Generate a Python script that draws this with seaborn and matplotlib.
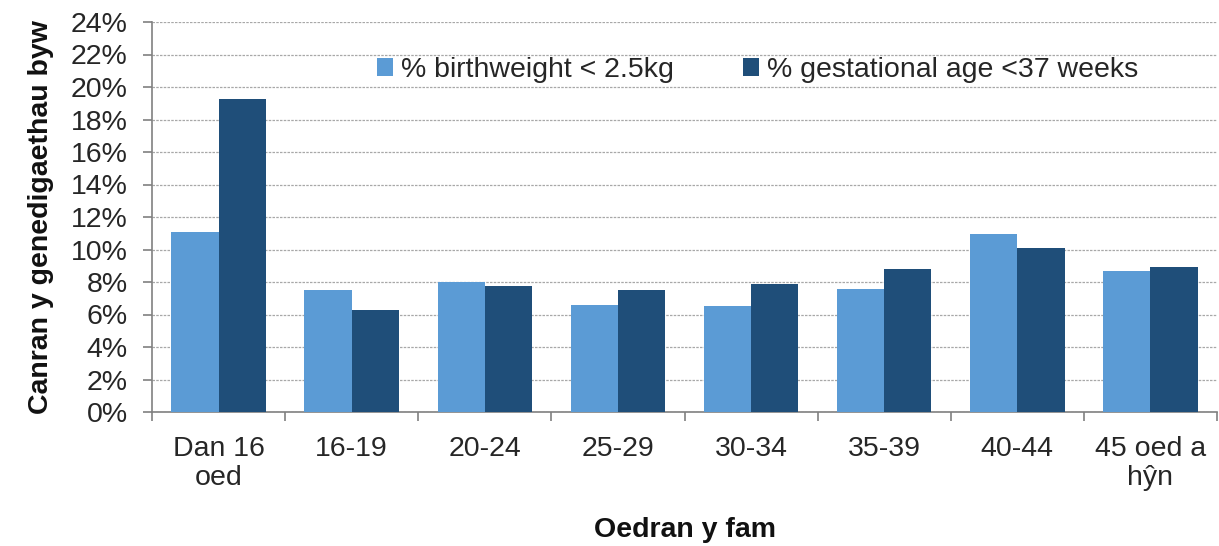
import matplotlib
matplotlib.use("Agg")
import matplotlib.pyplot as plt
import seaborn as sns
import pandas as pd
import numpy as np
from matplotlib.ticker import FixedLocator, PercentFormatter

categories = ["Dan 16\noed", "16-19", "20-24", "25-29", "30-34", "35-39", "40-44", "45 oed a\nhŷn"]
birthweight = [11.1, 7.5, 8.0, 6.6, 6.55, 7.55, 10.95, 8.65]
gestational = [19.25, 6.25, 7.75, 7.5, 7.85, 8.8, 10.1, 8.95]
series_names = ["% birthweight < 2.5kg", "% gestational age <37 weeks"]
colors = ["#5B9BD5", "#1F4E79"]

df = pd.DataFrame({
    "cat": categories * 2,
    "val": birthweight + gestational,
    "series": [series_names[0]] * len(categories) + [series_names[1]] * len(categories),
})

sns.set_theme(style="white")
plt.rcParams["font.family"] = ["Liberation Sans", "DejaVu Sans"]

FS = 20.5
TXT = "#262626"

fig = plt.figure(figsize=(12.19, 5.46), dpi=100)
ax = fig.add_axes([152 / 1219, (546 - 412) / 546, (1217 - 152) / 1219, (412 - 22) / 546])

sns.barplot(data=df, x="cat", y="val", hue="series", palette=colors, width=0.71,
            saturation=1, ax=ax, errorbar=None, zorder=3, linewidth=0)

ax.set_ylim(0, 24)
ax.set_xlim(-0.5, len(categories) - 0.5)
ax.yaxis.set_major_locator(FixedLocator(np.arange(0, 25, 2)))
ax.yaxis.set_major_formatter(PercentFormatter(decimals=0))
ax.grid(axis="y", color="#a8a8a8", linestyle=(0, (2, 1)), linewidth=0.9, zorder=0)
ax.set_axisbelow(True)

for s in ["top", "right"]:
    ax.spines[s].set_visible(False)
for s in ["left", "bottom"]:
    ax.spines[s].set_color("#808080")
    ax.spines[s].set_linewidth(1.2)

ax.tick_params(axis="y", which="major", direction="out", length=6.5, width=1.2, color="#808080",
               labelsize=FS, labelcolor=TXT, left=True, pad=11)
ax.tick_params(axis="x", which="major", length=0, labelsize=FS, labelcolor=TXT, pad=17)
for lbl in ax.get_xticklabels():
    lbl.set_linespacing(1.15)
ax.xaxis.set_minor_locator(FixedLocator(np.arange(-0.5, len(categories), 1.0)))
ax.tick_params(axis="x", which="minor", direction="out", length=6.5, width=1.2, color="#808080", bottom=True)

ax.set_xlabel("Oedran y fam", fontsize=FS, fontweight="bold", color="#111111", labelpad=19)
ax.set_ylabel("Canran y genedigaethau byw", fontsize=FS, fontweight="bold", color="#111111", labelpad=12)

leg = ax.legend(loc="center left", bbox_to_anchor=((377 - 152) / 1065, (412 - 70) / 390), ncol=2,
                frameon=False, fontsize=FS, handlelength=0.56, handleheight=0.56, handletextpad=0.3,
                columnspacing=2.4, borderaxespad=0, borderpad=0)
for t in leg.get_texts():
    t.set_color(TXT)

fig.savefig("out.png", dpi=100)
